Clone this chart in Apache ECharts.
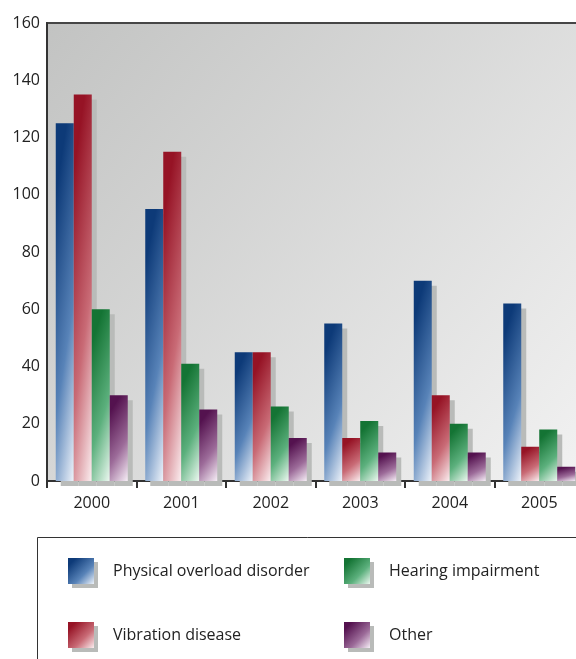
<!DOCTYPE html>
<html><head><meta charset="utf-8">
<script src="https://cdn.jsdelivr.net/npm/echarts@6/dist/echarts.min.js"></script>
<style>html,body{margin:0;padding:0;background:#fff}#c{width:576px;height:659px}</style>
</head><body><div id="c"></div>
<script>
var years = ['2000','2001','2002','2003','2004','2005'];
var physical = [125, 95, 45, 55, 70, 62];
var vibration = [135, 115, 45, 15, 30, 12];
var hearing = [60, 41, 26, 21, 20, 18];
var other = [30, 25, 15, 10, 10, 5];
var yTicks = [0, 20, 40, 60, 80, 100, 120, 140, 160];
var names = ['Physical overload disorder','Vibration disease','Hearing impairment','Other'];

var FONT = '"Open Sans", "Noto Sans", sans-serif';
var tones = [
  ['#0d3a78','#5883b8','#eef3fa'],
  ['#961325','#c96b76','#fbeef0'],
  ['#147434','#5cb07d','#ecf8f0'],
  ['#54124f','#9c6b99','#f6eef6']
];
function stops(c){ return [{offset:0,color:c[0]},{offset:0.15,color:c[0]},{offset:0.62,color:c[1]},{offset:1,color:c[2]}]; }
var BW = 18;
// gradient mostly vertical with a slight horizontal component (computed in pixel space)
function barGrad(c, h){
  h = Math.max(h, 1);
  var k = (1/3) * h*h/(BW*BW);
  var s = (k*BW*BW + h*h)/(k*k*BW*BW + h*h);
  return new echarts.graphic.LinearGradient(0,0,k*s,s,stops(c));
}
var seriesData = [physical, vibration, hearing, other];
function makeSeries(dataFn){
  return seriesData.map(function(d,i){
    return {
      name: names[i], type:'bar', data:dataFn(d,i), barWidth:BW, barGap:'0%',
      itemStyle:{color:new echarts.graphic.LinearGradient(0,0,1,1,stops(tones[i])), shadowColor:'#b9bbb9', shadowOffsetX:5, shadowOffsetY:5, shadowBlur:0},
      emphasis:{disabled:true}, animation:false
    };
  });
}
var legendStyle = {color:'inherit', shadowColor:'#b9bbb9', shadowOffsetX:4, shadowOffsetY:4, shadowBlur:0};
var chart = echarts.init(document.getElementById('c'), null, {renderer:'canvas'});
chart.setOption({
  animation:false,
  textStyle:{fontFamily:FONT},
  grid:{left:47, top:23, width:537, bottom:178, outerBoundsMode:'none', containLabel:false, show:true, borderWidth:2, borderColor:'#464646',
    backgroundColor:new echarts.graphic.LinearGradient(0,0,1,1,[{offset:0,color:'#c2c3c2'},{offset:1,color:'#f2f2f2'}])},
  xAxis:{type:'category', data:years,
    axisLine:{lineStyle:{color:'#333', width:2}},
    axisTick:{show:true, length:7, lineStyle:{color:'#333', width:2}},
    axisLabel:{color:'#222', fontSize:16, margin:14, fontFamily:FONT}},
  yAxis:{type:'value', min:yTicks[0], max:yTicks[yTicks.length-1], interval:yTicks[1]-yTicks[0],
    axisLine:{show:true, lineStyle:{color:'#333', width:2}},
    axisTick:{show:false}, splitLine:{show:false},
    axisLabel:{color:'#222', fontSize:16, margin:7, fontFamily:FONT}},
  legend:[
    {data:[names[0], names[1]], orient:'vertical', left:63, top:553, itemWidth:26, itemHeight:26, itemGap:38,
     icon:'rect', itemStyle:legendStyle, textStyle:{fontSize:16, color:'#222', fontFamily:FONT, padding:[0,0,0,14]}, selectedMode:false},
    {data:[names[2], names[3]], orient:'vertical', left:339, top:553, itemWidth:26, itemHeight:26, itemGap:38,
     icon:'rect', itemStyle:legendStyle, textStyle:{fontSize:16, color:'#222', fontFamily:FONT, padding:[0,0,0,14]}, selectedMode:false}
  ],
  graphic:[{type:'rect', shape:{x:37.5, y:537.5, width:600, height:160}, style:{fill:'none', stroke:'#333', lineWidth:1}, silent:true, z:-1}],
  series: makeSeries(function(d){ return d; })
});
// per-bar gradients, using bar pixel heights from the library's own scale
var y0 = chart.convertToPixel({yAxisIndex:0}, 0);
chart.setOption({
  series: makeSeries(function(d,i){
    return d.map(function(v){
      var h = Math.abs(y0 - chart.convertToPixel({yAxisIndex:0}, v));
      return {value:v, itemStyle:{color:barGrad(tones[i], h)}};
    });
  })
});
</script></body></html>
